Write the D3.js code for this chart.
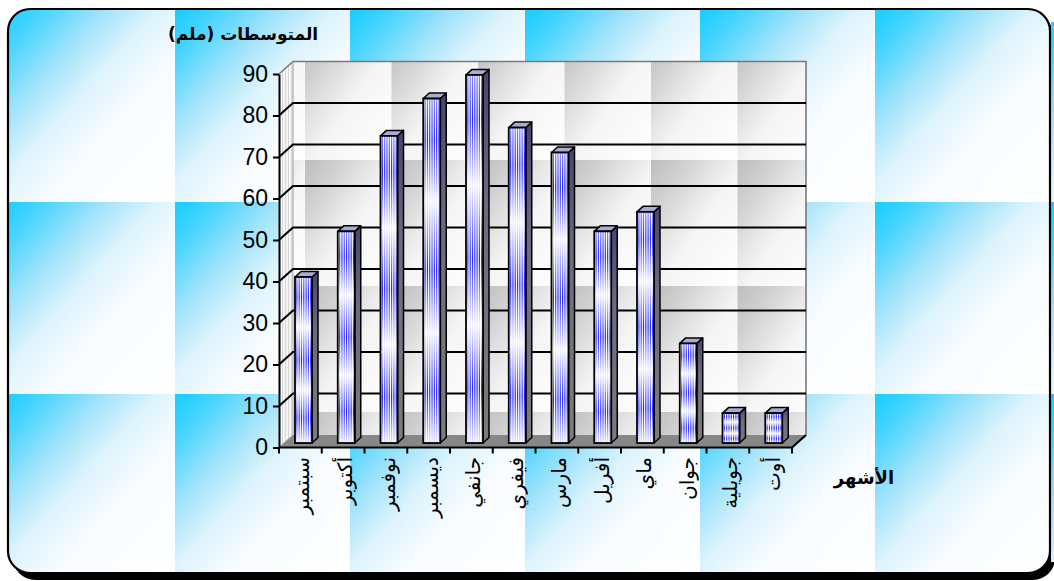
<!DOCTYPE html>
<html><head><meta charset="utf-8">
<script src="https://cdn.jsdelivr.net/npm/d3@7"></script>
<style>html,body{margin:0;padding:0;background:#fff;}svg{display:block;}</style>
</head><body>
<script>
const categories = ["سبتمبر","أكتوبر","نوفمبر","ديسمبر","جانفي","فيفري","مارس","أفريل","ماي","جوان","جويلية","أوت"];
const values = [40, 51, 74, 83, 88.7, 76, 70, 51, 55.7, 24, 7.2, 7.2];
const yTicks = [0,10,20,30,40,50,60,70,80,90];
const yTitle = "المتوسطات (ملم)";
const xTitle = "الأشهر";

const W = 1054, H = 581;
const svg = d3.select("body").append("svg").attr("width", W).attr("height", H);
const defs = svg.append("defs");

// background tile gradient (cyan)
const cg = defs.append("linearGradient").attr("id","cyanGrad").attr("x1",0).attr("y1",0).attr("x2",1).attr("y2",1);
[[0,"#16cdff"],[0.12,"#45d4ff"],[0.3,"#a2e3fb"],[0.45,"#dcf3fd"],[0.62,"#f8fcff"],[1,"#ffffff"]]
  .forEach(([o,c])=>cg.append("stop").attr("offset",o).attr("stop-color",c));
const bgp = defs.append("pattern").attr("id","bgTile").attr("patternUnits","userSpaceOnUse")
  .attr("x",0).attr("y",10).attr("width",175).attr("height",192);
bgp.append("rect").attr("width",175).attr("height",192).attr("fill","url(#cyanGrad)");

// plot wall tile gradient (gray)
const gg = defs.append("linearGradient").attr("id","grayGrad").attr("x1",0).attr("y1",0).attr("x2",1).attr("y2",1);
[[0,"#bdbdbd"],[0.2,"#cfcfcf"],[0.4,"#e6e6e6"],[0.55,"#f5f5f5"],[1,"#ffffff"]]
  .forEach(([o,c])=>gg.append("stop").attr("offset",o).attr("stop-color",c));
const wp = defs.append("pattern").attr("id","wallTile").attr("patternUnits","userSpaceOnUse")
  .attr("x",218.5).attr("y",34).attr("width",86.5).attr("height",126);
wp.append("rect").attr("width",86.5).attr("height",126).attr("fill","url(#grayGrad)");

// side wall stripes
const sp = defs.append("pattern").attr("id","sideStripe").attr("patternUnits","userSpaceOnUse")
  .attr("width",3).attr("height",10);
sp.append("rect").attr("width",3).attr("height",10).attr("fill","#f6f6f6");
sp.append("rect").attr("width",1).attr("height",10).attr("fill","#d6d6d6");

// bar stripe vertical gradient
const bg = defs.append("linearGradient").attr("id","barGrad").attr("x1",0).attr("y1",0).attr("x2",0).attr("y2",1);
[[0,0.55],[0.12,1],[0.3,0.05],[0.5,1],[0.68,0.05],[0.85,1],[1,0.12]]
  .forEach(([o,a])=>bg.append("stop").attr("offset",o).attr("stop-color","#2424ff").attr("stop-opacity",a));
const sg = defs.append("linearGradient").attr("id","sideGrad").attr("x1",0).attr("y1",0).attr("x2",0).attr("y2",1);
[[0,"#45456f"],[0.35,"#6a6a80"],[1,"#7c7c7c"]]
  .forEach(([o,c])=>sg.append("stop").attr("offset",o).attr("stop-color",c));

// outer box
const box = {x:8, y:9, w:1042, h:564, r:22};
svg.append("rect").attr("x",box.x+5).attr("y",box.y+7).attr("width",box.w).attr("height",box.h)
  .attr("rx",box.r).attr("fill","#000");
svg.append("rect").attr("x",1051).attr("y",22).attr("width",4).attr("height",540).attr("fill","url(#bgTile)");
svg.append("rect").attr("x",box.x).attr("y",box.y).attr("width",box.w).attr("height",box.h)
  .attr("rx",box.r).attr("fill","#fff");
svg.append("rect").attr("x",box.x).attr("y",box.y).attr("width",box.w).attr("height",box.h)
  .attr("rx",box.r).attr("fill","url(#bgTile)").attr("stroke","#000").attr("stroke-width",2.2);

// scales
const x = d3.scaleBand().domain(categories).range([279, 792]).padding(0);
const yF = d3.scaleLinear().domain([0,90]).range([447.5, 74]);
const DX = 14, DY = -12.5;           // wall depth
const yB = v => yF(v) + DY;
const x0 = x.range()[0], x1 = x.range()[1];

const g = svg.append("g");
// back wall
g.append("rect").attr("x",x0+DX).attr("y",yB(90)).attr("width",x1-x0).attr("height",yB(0)-yB(90))
  .attr("fill","url(#wallTile)");
// left wall
g.append("polygon").attr("points",[[x0,yF(90)],[x0+DX,yB(90)],[x0+DX,yB(0)],[x0,yF(0)]].join(" "))
  .attr("fill","url(#sideStripe)");
// floor
g.append("polygon").attr("points",[[x0,yF(0)],[x0+DX,yB(0)],[x1+DX,yB(0)],[x1,yF(0)]].join(" "))
  .attr("fill","#878787");
// wall edges
g.append("path").attr("d",`M${x0},${yF(90)}L${x0+DX},${yB(90)}L${x1+DX},${yB(90)}L${x1+DX},${yB(0)}`)
  .attr("fill","none").attr("stroke","#7a7a7a").attr("stroke-width",1.6);
g.append("path").attr("d",`M${x0},${yF(0)}L${x0+DX},${yB(0)}L${x0+DX},${yB(90)}`)
  .attr("fill","none").attr("stroke","#9a9a9a").attr("stroke-width",1);
// gridlines
const inner = yTicks.filter(v=>v>0 && v<90);
g.selectAll(".grid").data(inner).join("path")
  .attr("d",v=>`M${x0},${yF(v)}L${x0+DX},${yB(v)}L${x1+DX},${yB(v)}`)
  .attr("fill","none").attr("stroke","#000").attr("stroke-width",2);

// y axis
const yAxis = d3.axisLeft(yF).tickValues(yTicks).tickSize(6).tickSizeOuter(0).tickPadding(5);
const ya = g.append("g").attr("transform",`translate(${x0},0)`).call(yAxis);
ya.select(".domain").attr("stroke","#000").attr("stroke-width",2);
ya.selectAll(".tick line").attr("stroke","#000").attr("stroke-width",2);
ya.selectAll(".tick text").attr("font-family","'Liberation Sans', Arial, sans-serif")
  .attr("font-size",23).attr("fill","#000");

// x axis
const xEdges = d3.range(categories.length+1).map(i=>x0+i*x.step());
g.append("path").attr("d",`M${x0},${yF(0)}L${x1},${yF(0)}L${x1+DX},${yB(0)}`)
  .attr("fill","none").attr("stroke","#000").attr("stroke-width",2.2);
g.selectAll(".xt").data(xEdges).join("line")
  .attr("x1",d=>d).attr("x2",d=>d).attr("y1",yF(0)).attr("y2",yF(0)+6)
  .attr("stroke","#000").attr("stroke-width",2);

// bars
const BW = 17, BOFF = 16, BF = 4.5, SD = 6, SDY = -5.5;
const by = v => yF(v) - BF;
const bars = g.selectAll(".bar").data(categories.map((c,i)=>({c, v:values[i]}))).join("g");
bars.each(function(d){
  const s = d3.select(this);
  const bx = x(d.c) + BOFF, top = by(d.v), bot = by(0);
  s.append("polygon").attr("points",[[bx+BW,top],[bx+BW+SD,top+SDY],[bx+BW+SD,bot+SDY],[bx+BW,bot]].join(" "))
    .attr("fill","url(#sideGrad)").attr("stroke","#000").attr("stroke-width",1.5).attr("stroke-linejoin","round");
  s.append("polygon").attr("points",[[bx,top],[bx+SD,top+SDY],[bx+BW+SD,top+SDY],[bx+BW,top]].join(" "))
    .attr("fill","#a9acd6").attr("stroke","#000").attr("stroke-width",1.5).attr("stroke-linejoin","round");
  s.append("rect").attr("x",bx).attr("y",top).attr("width",BW).attr("height",bot-top).attr("fill","#fff");
  d3.range(7).forEach(k=>{
    s.append("rect").attr("x",bx+1.3+k*2.3).attr("y",top).attr("width",1.2).attr("height",bot-top)
      .attr("fill","url(#barGrad)");
  });
  s.append("rect").attr("x",bx).attr("y",top).attr("width",BW).attr("height",bot-top)
    .attr("fill","none").attr("stroke","#000").attr("stroke-width",1.8);
});

// x labels
g.selectAll(".xl").data(categories).join("text")
  .attr("transform",c=>`translate(${x(c)+x.bandwidth()/2+2},457) rotate(-90)`)
  .attr("text-anchor","end").attr("dominant-baseline","central")
  .attr("font-family","'DejaVu Sans', sans-serif").attr("font-size",20).attr("fill","#000")
  .text(c=>c);

// titles
svg.append("text").attr("x",243).attr("y",40).attr("text-anchor","middle")
  .attr("font-family","'DejaVu Sans', sans-serif").attr("font-weight","bold").attr("font-size",17)
  .attr("direction","rtl").style("unicode-bidi","embed").text(yTitle);
svg.append("text").attr("x",864).attr("y",484).attr("text-anchor","middle")
  .attr("font-family","'DejaVu Sans', sans-serif").attr("font-weight","bold").attr("font-size",18)
  .text(xTitle);
</script>
</body></html>
